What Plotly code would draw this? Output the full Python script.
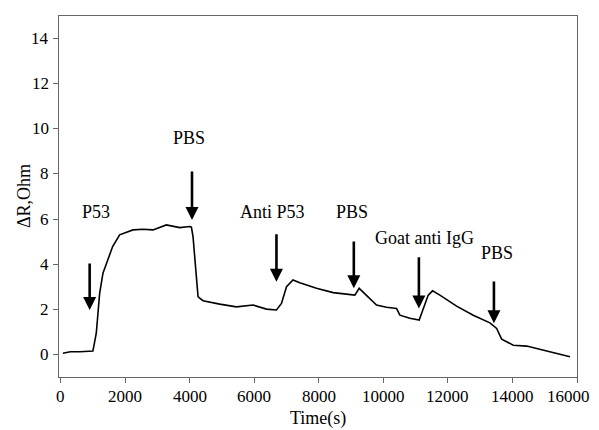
import plotly.graph_objects as go

# Time (s) and resistance change (Ohm)
time_s = [70, 300, 600, 900, 1000, 1105, 1209, 1312, 1417, 1612, 1829, 1984, 2242,
          2552, 2862, 3276, 3690, 4000, 4052, 4103, 4155, 4207, 4258, 4310, 4413,
          4930, 5448, 5964, 6378, 6688, 6843, 7000, 7200, 7411, 7928, 8444, 9116,
          9251, 9478, 9788, 10099, 10409, 10512, 10822, 11110, 11235, 11390, 11525,
          11752, 12269, 12785, 13302, 13510, 13665, 13922, 14025, 14440, 14955,
          15473, 15783]
delta_r = [0.05, 0.12, 0.12, 0.13, 0.15, 0.94, 2.7, 3.6, 4.05, 4.78, 5.3, 5.37, 5.52,
           5.55, 5.52, 5.74, 5.62, 5.67, 5.64, 5.22, 4.19, 3.15, 2.56, 2.49, 2.38,
           2.23, 2.11, 2.19, 2.01, 1.97, 2.26, 3.0, 3.3, 3.18, 2.93, 2.74, 2.63,
           2.93, 2.63, 2.19, 2.09, 2.04, 1.74, 1.6, 1.52, 2.04, 2.63, 2.82,
           2.63, 2.14, 1.74, 1.4, 1.15, 0.68, 0.49, 0.41, 0.37, 0.19,
           0.01, -0.1]

# Injection events: label, arrow x, arrow top, arrow tip, label x, label y
event_labels = ["P53", "PBS", "Anti P53", "PBS", "Goat anti IgG", "PBS"]
arrow_x = [900, 4071, 6688, 9085, 11101, 13426]
arrow_top = [4.1, 8.18, 5.39, 5.07, 4.37, 3.3]
arrow_tip = [1.97, 5.96, 3.22, 2.93, 2.04, 1.38]
label_x = [1085, 3990, 6574, 9013, 11287, 13510]
label_y = [6.32, 9.6, 6.32, 6.33, 5.15, 4.51]

# Tick values and labels
x_ticks = list(range(0, 16001, 2000))
x_tick_labels = [str(v) for v in x_ticks]
y_ticks = list(range(0, 15, 2))
y_tick_labels = [str(v) for v in y_ticks]

FONT = "Liberation Serif"
TXT = dict(family=FONT, size=18, color="black")
TICKTXT = dict(family=FONT, size=17, color="black")

fig = go.Figure()
fig.add_trace(go.Scatter(x=time_s, y=delta_r, mode="lines",
                         line=dict(color="black", width=1.6), showlegend=False))

annotations = []
for lab, ax_, top, tip, lx, ly in zip(event_labels, arrow_x, arrow_top, arrow_tip, label_x, label_y):
    annotations.append(dict(x=ax_, y=tip, ax=ax_, ay=top, xref="x", yref="y",
                            axref="x", ayref="y", showarrow=True, arrowhead=2,
                            arrowsize=1.0, arrowwidth=2.6, arrowcolor="black", text=""))
    annotations.append(dict(x=lx, y=ly, xref="x", yref="y", text=lab, showarrow=False,
                            font=TXT))

# tick labels placed on the axis scales (serif font is not honoured by the axis tick text here)
for i, (v, lab) in enumerate(zip(x_ticks, x_tick_labels)):
    last = i == len(x_ticks) - 1
    annotations.append(dict(x=v, y=-0.053, xref="x", yref="paper", text=lab,
                            showarrow=False, xanchor="right" if last else "center",
                            xshift=14 if last else 0, yanchor="middle",
                            font=TICKTXT, borderpad=0))
for v, lab in zip(y_ticks, y_tick_labels):
    annotations.append(dict(x=-0.017, y=v, xref="paper", yref="y", text=lab,
                            showarrow=False, xanchor="right", yanchor="middle",
                            font=TICKTXT, borderpad=0))

annotations.append(dict(x=-0.0685, y=0.5, xref="paper", yref="paper", text="ΔR,Ohm",
                        textangle=-90, showarrow=False, xanchor="center", yanchor="middle",
                        font=TXT))
annotations.append(dict(x=0.5, y=-0.114, xref="paper", yref="paper", text="Time(s)",
                        showarrow=False, xanchor="center", yanchor="middle", font=TXT))

axis_common = dict(showgrid=False, zeroline=False, showline=True, linecolor="#666",
                   linewidth=1.2, mirror=True, ticks="outside", ticklen=5,
                   tickcolor="#666", showticklabels=False)

# page body has an 8 px margin; margins compensate so the plot area lands where the reference has it
fig.update_layout(
    width=599, height=430,
    margin=dict(l=51, r=30, t=8, b=61),
    font=TXT,
    plot_bgcolor="white", paper_bgcolor="white",
    xaxis=dict(range=[-50, 16000], tickvals=x_ticks, **axis_common),
    yaxis=dict(range=[-1, 15], tickvals=y_ticks, **axis_common),
    annotations=annotations,
)

fig.write_html("out.html")
